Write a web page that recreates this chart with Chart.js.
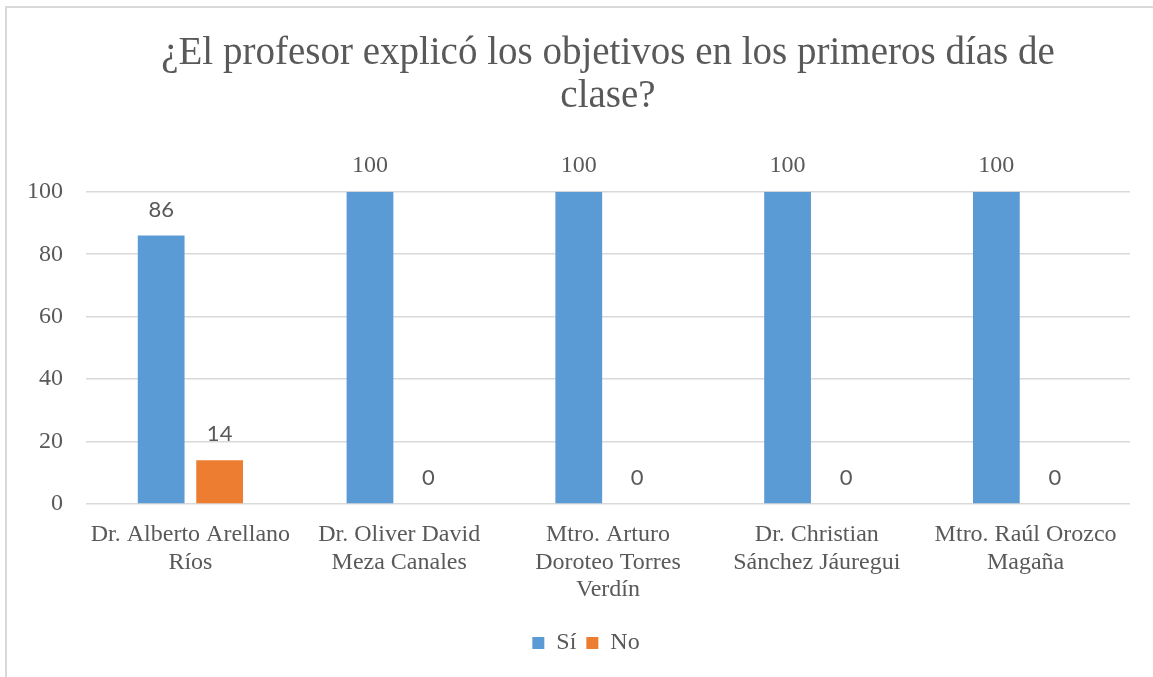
<!DOCTYPE html>
<html lang="es">
<head>
<meta charset="utf-8">
<script src="https://cdn.jsdelivr.net/npm/chart.js@4.4.1/dist/chart.umd.min.js"></script>
<style>
    html, body { margin: 0; padding: 0; background: #fff; }
    #wrap { position: relative; width: 1153px; height: 677px; overflow: hidden; }
    #frame { position: absolute; left: 5px; top: 6px; width: 1200px; height: 700px; border: 2px solid #d9d9d9; box-sizing: border-box; }
    #chart { position: absolute; left: 0; top: 0; }
</style>
</head>
<body>
<div id="wrap">
    <div id="frame"></div>
    <canvas id="chart" width="1153" height="677"></canvas>
</div>
<script>
// Chart data
const TITLE_LINES = ['¿El profesor explicó los objetivos en los primeros días de', 'clase?'];
const PROFESORES = [
    ['Dr. Alberto Arellano', 'Ríos'],
    ['Dr. Oliver David', 'Meza Canales'],
    ['Mtro. Arturo', 'Doroteo Torres', 'Verdín'],
    ['Dr. Christian', 'Sánchez Jáuregui'],
    ['Mtro. Raúl Orozco', 'Magaña']
];
const SI_VALUES = [86, 100, 100, 100, 100];
const NO_VALUES = [14, 0, 0, 0, 0];
const Y_TICKS = [0, 20, 40, 60, 80, 100];

const TEXT_COLOR = '#595959';
const GRID_COLOR = '#d9d9d9';
const SERIF = "'Liberation Serif', 'DejaVu Serif', serif";
const SANS = "Lato, 'Noto Sans', sans-serif";

// draws the value above each bar (no datalabels plugin available)
const valueLabels = {
    id: 'valueLabels',
    afterLayout(chart) {
        // legend sits a bit right of the canvas centre in the original
        chart.legend.left = 42;
    },
    afterDatasetsDraw(chart) {
        const ctx = chart.ctx;
        ctx.save();
        ctx.textAlign = 'center';
        ctx.textBaseline = 'middle';
        ctx.fillStyle = TEXT_COLOR;
        chart.data.datasets.forEach((ds, di) => {
            const meta = chart.getDatasetMeta(di);
            meta.data.forEach((bar, i) => {
                const v = ds.data[i];
                // the 100s are rendered in the serif face in the original, the rest in sans
                ctx.font = v === 100 ? `24px ${SERIF}` : `22px ${SANS}`;
                ctx.fillText(String(v), bar.x, bar.y - 26);
            });
        });
        ctx.restore();
    }
};

const ctx = document.getElementById('chart').getContext('2d');
new Chart(ctx, {
    type: 'bar',
    data: {
        labels: PROFESORES,
        datasets: [
            { label: 'Sí', data: SI_VALUES, backgroundColor: '#5b9bd5', categoryPercentage: 0.56, barPercentage: 0.8 },
            { label: 'No', data: NO_VALUES, backgroundColor: '#ed7d31', categoryPercentage: 0.56, barPercentage: 0.8 }
        ]
    },
    options: {
        responsive: false,
        animation: false,
        layout: { padding: { left: 0, right: 23, top: 0, bottom: 12 } },
        scales: {
            x: {
                afterFit: (scale) => { scale.height = 117; },
                grid: { display: false },
                border: { display: false },
                ticks: {
                    color: TEXT_COLOR,
                    font: { family: SERIF, size: 24, lineHeight: 1.15 },
                    maxRotation: 0,
                    autoSkip: false,
                    padding: 9
                }
            },
            y: {
                min: 0,
                max: 100,
                afterBuildTicks: (scale) => { scale.ticks = Y_TICKS.map(v => ({ value: v })); },
                afterFit: (scale) => { scale.width = 86; },
                grid: { color: GRID_COLOR, lineWidth: 1.5, drawTicks: false },
                border: { display: false },
                ticks: {
                    color: TEXT_COLOR,
                    font: { family: SERIF, size: 24 },
                    padding: 23
                }
            }
        },
        plugins: {
            title: {
                display: true,
                fullSize: false,
                text: TITLE_LINES,
                color: TEXT_COLOR,
                font: { family: SERIF, size: 39, weight: 'normal', lineHeight: 1.1 },
                padding: { top: 32, bottom: 74 }
            },
            legend: {
                position: 'bottom',
                labels: {
                    color: TEXT_COLOR,
                    font: { family: SERIF, size: 24 },
                    boxWidth: 12,
                    boxHeight: 12,
                    padding: 10
                }
            },
            tooltip: { enabled: false }
        }
    },
    plugins: [valueLabels]
});
</script>
</body>
</html>
